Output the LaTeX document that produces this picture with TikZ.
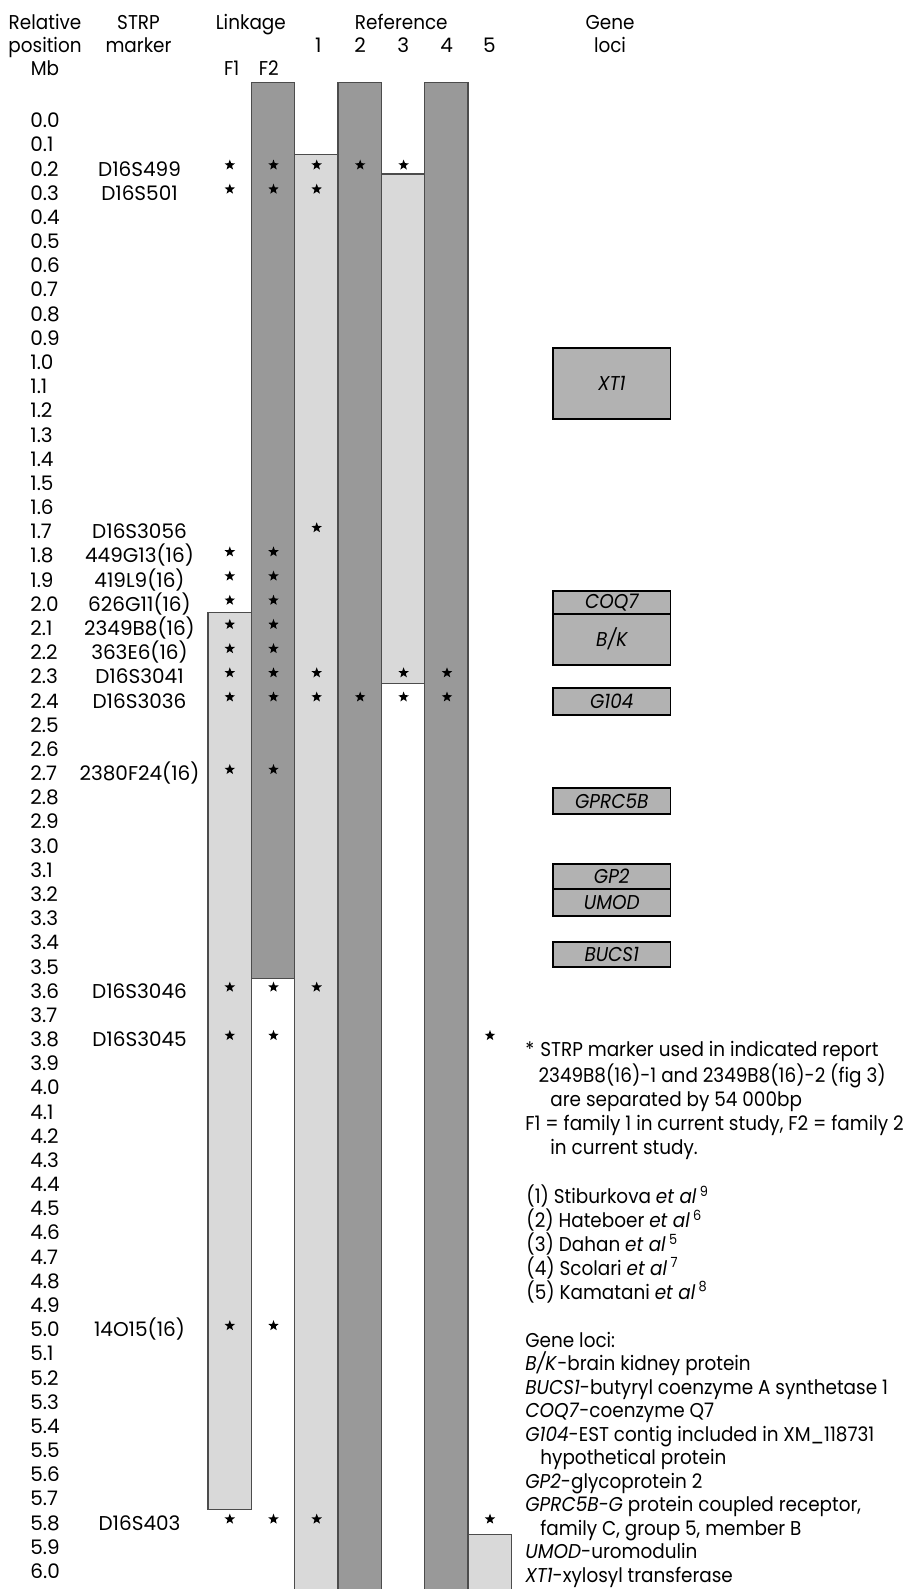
\documentclass[tikz,border=0pt]{standalone}
\usepackage{fontspec}
\setmainfont[FakeStretch=0.92]{Poppins}
\newfontfamily\numfont{Poppins}
\usetikzlibrary{positioning,shapes.geometric}

\definecolor{bardark}{gray}{0.6}
\definecolor{barlight}{gray}{0.85}
\definecolor{genegray}{gray}{0.7}
\definecolor{edgegray}{gray}{0.3}

\tikzset{
  lbl/.style={inner sep=0pt, anchor=base},
  num/.style={inner sep=0pt, anchor=base, font=\fontsize{10}{11.7}\selectfont\numfont},
  strp/.style={star, star points=5, star point ratio=2.4, fill=black,
    inner sep=0pt, minimum size=5.5pt},
  darkbar/.style={fill=bardark, draw=edgegray, line width=0.7pt},
  lightbar/.style={fill=barlight, draw=edgegray, line width=0.7pt},
  gene/.style={draw=black, fill=genegray, line width=0.9pt, minimum width=58.75pt,
    inner sep=0pt, outer sep=0pt, font=\fontsize{10}{12}\selectfont\itshape},
  note/.style={inner sep=0pt, anchor=base west, align=left,
    font=\fontsize{10}{11.9}\selectfont},
}

\begin{document}
\begin{tikzpicture}[x=0.5pt, y=-0.5pt, font=\fontsize{10}{11.7}\selectfont]
\useasboundingbox (0,0) rectangle (911,1589);

% column heads (base = last line)
\node[lbl, align=center] (relpos) at (45,76) {Relative\\position\\Mb};
\node[lbl, align=center] (strphead) at (138.5,53) {STRP\\marker};
\node[lbl] (linkage) at (250.8,29.3) {Linkage};
\node[lbl] (fam1) at (231.7,76) {F1};
\node[lbl] (fam2) at (268.8,76) {F2};
\node[lbl] (refhead) at (401.3,29.3) {Reference};
\foreach \k/\x in {1/318.3,2/360,3/403.3,4/446.7,5/489.3}
  \node[num] (ref\k) at (\x,53) {\k};
\node[lbl, align=center] (locihead) at (610,53) {Gene\\loci};

% bars
\filldraw[lightbar] (208,612.7) rectangle (251.3,1509.3);
\filldraw[darkbar] (251.3,82.3) rectangle (294.7,978.7);
\filldraw[lightbar] (294.7,154.3) rectangle (338,1600);
\filldraw[darkbar] (338,82.3) rectangle (381.3,1600);
\filldraw[lightbar] (381.3,174) rectangle (424.7,683.7);
\filldraw[darkbar] (424.7,82.3) rectangle (468,1600);
\filldraw[lightbar] (468,1534.3) rectangle (511.3,1600);

% positions
\foreach \i in {0,...,60} {
  \pgfmathtruncatemacro\mba{\i/10}
  \pgfmathtruncatemacro\mbb{\i-10*\mba}
  \node[num, anchor=base west] (mb\i) at (30,{127.7+24.18*\i}) {\mba.\mbb};
}

% markers
\foreach \r/\m in {2/D16S499, 3/D16S501, 17/D16S3056, 18/449G13(16),
    19/419L9(16), 20/626G11(16), 21/2349B8(16), 22/363E6(16), 23/D16S3041,
    24/D16S3036, 27/2380F24(16), 36/D16S3046, 38/D16S3045, 50/14O15(16),
    58/D16S403}
  \node[num] (mk\r) at (139.5,{127.7+24.18*\r}) {\m};

% stars
\foreach \c/\x/\rows in {f1/229.8/{2,3,18,19,20,21,22,23,24,27,36,38,50,58},
    f2/273.5/{2,3,18,19,20,21,22,23,24,27,36,38,50,58},
    r1/316.7/{2,3,17,23,24,36,58}, r2/360.2/{2,24}, r3/403.6/{2,23,24},
    r4/447/{23,24}, r5/490/{38,58}}
  \foreach \r in \rows
    \node[strp] (s-\c-\r) at (\x,{116.7+24.18*\r}) {};

% gene loci
\node[gene, minimum height=35.5pt] (xt1) at (611.75,383.2) {XT1};
\node[gene, minimum height=11.5pt] (coq7) at (611.75,602.2) {COQ7};
\node[gene, minimum height=25.5pt, below=0pt of coq7] (bk) {B/K};
\node[gene, minimum height=13.5pt] (g104) at (611.75,701.8) {G104};
\node[gene, minimum height=13pt] (gprc5b) at (611.75,801.3) {GPRC5B};
\node[gene, minimum height=12.65pt] (gp2) at (611.75,876.65) {GP2};
\node[gene, minimum height=13.2pt, below=0pt of gp2] (umod) {UMOD};
\node[gene, minimum height=12.8pt] (bucs1) at (611.75,954.5) {BUCS1};

% notes (base = last line)
\node[note] (key) at (525,1154) {*\hspace{3pt}STRP marker used in indicated report\\
  \hspace*{6.6pt}2349B8(16)-1 and 2349B8(16)-2 (fig 3)\\
  \hspace*{12.5pt}are separated by 54 000bp\\
  F1 = family 1 in current study, F2 = family 2\\
  \hspace*{12.5pt}in current study.};
\node[note] (refs) at (526,1299) {(1) Stiburkova \textit{et al}\,\textsuperscript{9}\\
  (2) Hateboer \textit{et al}\,\textsuperscript{6}\\
  (3) Dahan \textit{et al}\,\textsuperscript{5}\\
  (4) Scolari \textit{et al}\,\textsuperscript{7}\\
  (5) Kamatani \textit{et al}\,\textsuperscript{8}};
\node[note, font=\fontsize{10}{11.75}\selectfont] (legend) at (525,1582.3) {Gene loci:\\
  \textit{B/K}-brain kidney protein\\
  \textit{BUCS1}-butyryl coenzyme A synthetase 1\\
  \textit{COQ7}-coenzyme Q7\\
  \textit{G104}-EST contig included in XM\_118731\\
  \hspace*{7.5pt}hypothetical protein\\
  \textit{GP2}-glycoprotein 2\\
  \textit{GPRC5B-G} protein coupled receptor,\\
  \hspace*{7.5pt}family C, group 5, member B\\
  \textit{UMOD}-uromodulin\\
  \textit{XT1}-xylosyl transferase};

\end{tikzpicture}
\end{document}
